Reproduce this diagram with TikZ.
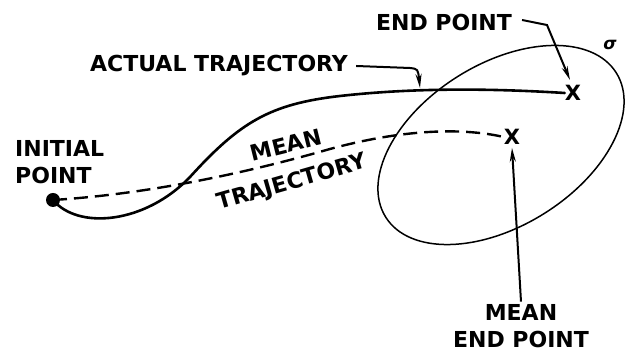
\documentclass[tikz,border=0pt]{standalone}
\usepackage{fontspec}
\setsansfont{DejaVu Sans}
\usepackage{tikz}
\usetikzlibrary{arrows.meta,positioning,calc}
\tikzset{
  lbl/.style={font=\sffamily\bfseries\fontsize{22}{27}\selectfont,inner sep=0pt},
  cross/.style={lbl,font=\sffamily\bfseries\fontsize{21}{21}\selectfont},
  traj/.style={line width=2.6pt,line cap=round},
  mtraj/.style={line width=2.4pt,dash pattern=on 14pt off 7pt},
  arr/.style={-{Stealth[length=14pt,width=6pt]},line width=2pt},
  cov/.style={line width=1.5pt},
}
\begin{document}
\begin{tikzpicture}[x=1pt,y=1pt]
  \useasboundingbox (0,0) rectangle (625,352);
  % covariance ellipse
  \draw[cov] (501,207) ellipse[x radius=136,y radius=81,rotate=32];
  \node[lbl,font=\sffamily\bfseries\itshape\fontsize{17}{17}\selectfont] (sig) at (610,307) {σ};
  % points
  \fill (53,152) circle (7) coordinate (init);
  \node[cross] (endpt) at (573,259) {X};
  \node[cross] (meanpt) at (512,215) {X};
  % trajectories
  \draw[traj] (init) .. controls (78,122) and (145,128) .. (190,175)
    .. controls (240,230) and (270,248) .. (340,256)
    .. controls (420,265) and (500,263) .. (endpt.west);
  \draw[mtraj] (init) .. controls (150,158) and (250,180) .. (330,203)
    .. controls (400,222) and (460,225) .. (meanpt.west);
  % labels
  \node[lbl] (actual) at (219,286) {ACTUAL TRAJECTORY};
  \node[lbl] (endlbl) at (444,329) {END POINT};
  \node[lbl,align=left,anchor=west] (initlbl) at (15,189.5) {INITIAL\\POINT};
  \node[lbl,rotate=14] (mean) at (286,207) {MEAN};
  \node[lbl,rotate=16] (trajlbl) at (292,169) {TRAJECTORY};
  \node[lbl,align=center] (meanlbl) at (521,25.5) {MEAN\\END POINT};
  % leaders
  \coordinate (acttip) at (420,264);
  \coordinate (endtip) at (570,272);
  \draw[arr] ([xshift=8pt]actual.east) -- (410,284) .. controls (418,283) .. (acttip);
  \draw[arr] ([xshift=10pt,yshift=3pt]endlbl.east) -- (547,327) -- (endtip);
  \draw[arr] ([yshift=3pt]meanlbl.north) -- ([yshift=-3pt]meanpt.south);
\end{tikzpicture}
\end{document}
